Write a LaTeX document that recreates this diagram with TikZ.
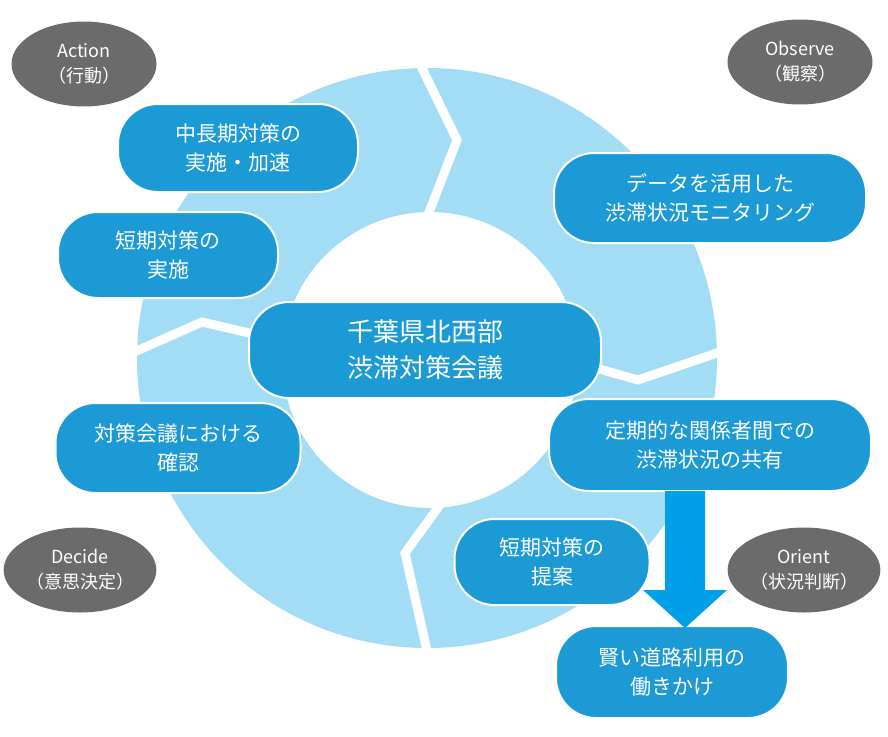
\documentclass[tikz,border=0pt]{standalone}
\usepackage{fontspec}
\setmainfont{Noto Sans CJK JP}
\usetikzlibrary{shapes.geometric}
\definecolor{ring}{HTML}{A3DCF5}
\definecolor{pill}{HTML}{1B9AD6}
\definecolor{gr}{HTML}{6B6B6B}
\definecolor{arr}{HTML}{00A0E9}
\begin{document}
\begin{tikzpicture}[x=1pt,y=-1pt,
 pill/.style={draw=white,line width=2pt,fill=pill,rounded corners=40pt,text=white,align=center,font=\fontsize{21}{29}\selectfont,inner sep=0pt},
 oval/.style={ellipse,fill=gr,text=white,align=center,font=\fontsize{18}{25}\selectfont,inner sep=0pt},
 cut/.style={white,line width=9pt,line join=miter}]
\useasboundingbox (0,0) rectangle (888,736);
\fill[ring,even odd rule] (427,358) circle[radius=290] (430,360) circle[radius=148];
\draw[cut] (418,60) -- (457,140) -- (428,215);
\draw[cut] (575,362) -- (638,380) -- (720,352);
\draw[cut] (445,498) -- (405,553) -- (428,655);
\draw[cut] (132,353) -- (202,322) -- (288,342);
\node[pill,minimum width=240,minimum height=88] (a) at (238,148) {中長期対策の\\実施・加速};
\node[pill,minimum width=220,minimum height=86] (b) at (168,255) {短期対策の\\実施};
\node[pill,minimum width=352,minimum height=96,font=\fontsize{26}{36}\selectfont] (c) at (425,350) {千葉県北西部\\渋滞対策会議};
\node[pill,minimum width=312,minimum height=90] (d) at (710,198) {データを活用した\\渋滞状況モニタリング};
\node[pill,minimum width=322,minimum height=92] (e) at (710,445) {定期的な関係者間での\\渋滞状況の共有};
\node[pill,minimum width=245,minimum height=90] (f) at (178,448) {対策会議における\\確認};
\node[pill,minimum width=195,minimum height=86] (g) at (552,562) {短期対策の\\提案};
\node[pill,minimum width=232,minimum height=92] (h) at (672,672) {賢い道路利用の\\働きかけ};
\fill[arr] (665,491) -- (705,491) -- (705,590) -- (727,590) -- (685,628) -- (643,590) -- (665,590) -- cycle;
\node[oval,minimum width=145,minimum height=85] (o1) at (84,64) {Action\\（行動）};
\node[oval,minimum width=145,minimum height=85] (o2) at (800,62) {Observe\\（観察）};
\node[oval,minimum width=145,minimum height=85] (o3) at (80,570) {Decide\\（意思決定）};
\node[oval,minimum width=145,minimum height=85] (o4) at (804,570) {Orient\\（状況判断）};
\end{tikzpicture}
\end{document}
